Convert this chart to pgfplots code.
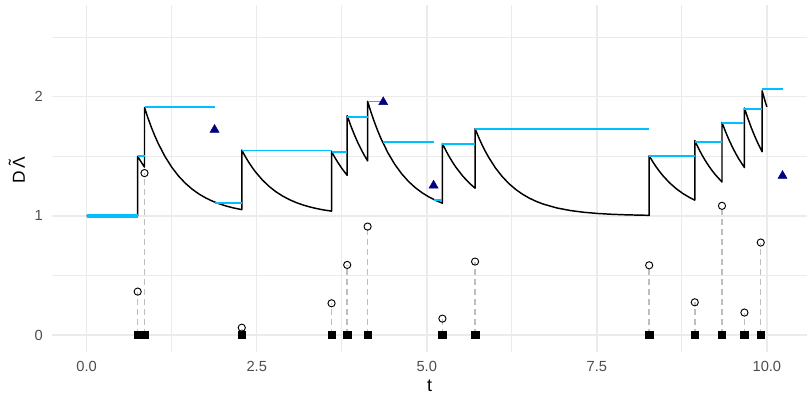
\documentclass[border=0pt]{standalone}
\usepackage{fontspec}
\setmainfont{Liberation Sans}
\usepackage{pgfplots}
\pgfplotsset{compat=1.18}
\definecolor{gridc}{HTML}{EBEBEB}
\definecolor{tickc}{HTML}{4D4D4D}
\definecolor{skyc}{HTML}{00BFFF}
\definecolor{navyc}{HTML}{000080}
\definecolor{dashc}{HTML}{BEBEBE}
\newcommand{\tLam}{\ooalign{Λ\cr\hidewidth\raisebox{0.22em}{\char"02DC}\hidewidth\cr}}
\begin{document}
\begin{tikzpicture}
\begin{axis}[
  at={(0,0)}, anchor=south west,
  scale only axis, width=566.25pt, height=260.25pt,
  xmin=-0.51, xmax=10.59, ymin=-0.143, ymax=2.77,
  axis line style={draw=none},
  major tick length=0pt, minor tick length=0pt,
  xtick={0,2.5,5,7.5,10}, xticklabels={0.0,2.5,5.0,7.5,10.0},
  minor xtick={1.25,3.75,6.25,8.75},
  ytick={0,1,2}, yticklabels={0,1,2},
  minor ytick={0.5,1.5,2.5},
  grid=both,
  major grid style={draw=gridc, line width=1.1pt},
  minor grid style={draw=gridc, line width=0.55pt},
  tick label style={font=\fontsize{11}{11}\selectfont, text=tickc},
  xticklabel style={anchor=north, inner sep=0pt, yshift=-6.5pt},
  yticklabel style={anchor=east, inner sep=0pt, xshift=-6.75pt},
  every axis x label/.style={at={(axis description cs:0.5,-0.0965)}, anchor=center, inner sep=0pt, font=\fontsize{13.5}{13.5}\selectfont},
  every axis y label/.style={at={(axis description cs:-0.0437,0.5245)}, rotate=90, anchor=center, inner sep=0pt, font=\fontsize{13}{13}\selectfont},
  xlabel={t}, ylabel={D\kern1.5pt\tLam},
  unbounded coords=jump,
  clip=false,
]
% intensity
\addplot[black, line width=1.1pt, line join=round] coordinates {
 (0,1) (0.75,1) (0.75,1.5) (0.80,1.45242) (0.85,1.40937)
 (0.85,1.90937) (0.90,1.82283) (0.95,1.74453) (1.00,1.67368) (1.05,1.60957) (1.15,1.49907) (1.25,1.40860) (1.35,1.33454) (1.45,1.27390) (1.55,1.22425) (1.65,1.18360) (1.75,1.15032) (1.85,1.12307) (1.95,1.10076) (2.05,1.08250) (2.15,1.06754) (2.28,1.05208)
 (2.28,1.55208) (2.33,1.49954) (2.38,1.45200) (2.43,1.40899) (2.48,1.37007) (2.58,1.30299) (2.68,1.24806) (2.78,1.20310) (2.88,1.16628) (2.98,1.13614) (3.08,1.11146) (3.18,1.09126) (3.28,1.07472) (3.38,1.06117) (3.48,1.05008) (3.60,1.03940)
 (3.60,1.53940) (3.65,1.48807) (3.70,1.44162) (3.75,1.39960) (3.80,1.36157) (3.83,1.34051)
 (3.83,1.84051) (3.88,1.76053) (3.93,1.68815) (3.98,1.62266) (4.03,1.56341) (4.08,1.50980) (4.13,1.46128)
 (4.13,1.96128) (4.18,1.86980) (4.23,1.78703) (4.28,1.71213) (4.33,1.64437) (4.43,1.52756) (4.53,1.43193) (4.63,1.35364) (4.73,1.28953) (4.83,1.23705) (4.93,1.19408) (5.03,1.15890) (5.13,1.13010) (5.23,1.10651)
 (5.23,1.60651) (5.28,1.54879) (5.33,1.49657) (5.38,1.44931) (5.43,1.40655) (5.53,1.33286) (5.63,1.27252) (5.71,1.23223)
 (5.71,1.73223) (5.76,1.66255) (5.81,1.59950) (5.86,1.54245) (5.91,1.49083) (6.01,1.40186) (6.11,1.32901) (6.21,1.26937) (6.31,1.22054) (6.41,1.18057) (6.51,1.14783) (6.61,1.12104) (6.71,1.09910) (6.91,1.06643) (7.11,1.04453) (7.31,1.02985) (7.51,1.02001) (7.71,1.01341) (7.91,1.00899) (8.11,1.00603) (8.27,1.00438)
 (8.27,1.50438) (8.32,1.45638) (8.37,1.41295) (8.42,1.37365) (8.47,1.33810) (8.57,1.27681) (8.67,1.22663) (8.77,1.18555) (8.87,1.15192) (8.94,1.13207)
 (8.94,1.63207) (8.99,1.57192) (9.04,1.51750) (9.09,1.46825) (9.14,1.42369) (9.19,1.38337) (9.24,1.34689) (9.34,1.28401)
 (9.34,1.78401) (9.39,1.70940) (9.44,1.64189) (9.49,1.58081) (9.54,1.52554) (9.59,1.47553) (9.67,1.40522)
 (9.67,1.90522) (9.72,1.81908) (9.77,1.74113) (9.82,1.67060) (9.87,1.60679) (9.93,1.53817)
 (9.93,2.05) (9.98,1.95) (10.0,1.915)
};
% bound (step) segments
\addplot[skyc, line width=2.8pt, forget plot] coordinates {(0,1) (0.75,1)};
\addplot[skyc, line width=1.4pt] coordinates {
 (0.75,1.50) (0.85,1.50) (0.85,nan)
 (0.85,1.912) (1.88,1.912) (1.88,nan)
 (1.88,1.11) (2.28,1.11) (2.28,nan)
 (2.28,1.549) (3.60,1.549) (3.60,nan)
 (3.60,1.537) (3.83,1.537) (3.83,nan)
 (3.83,1.829) (4.13,1.829) (4.13,nan)
 (4.13,1.96) (4.36,1.96) (4.36,nan)
 (4.36,1.619) (5.10,1.619) (5.10,nan)
 (5.10,1.134) (5.23,1.134) (5.23,nan)
 (5.23,1.605) (5.71,1.605) (5.71,nan)
 (5.71,1.731) (8.27,1.731) (8.27,nan)
 (8.27,1.50) (8.94,1.50) (8.94,nan)
 (8.94,1.62) (9.34,1.62) (9.34,nan)
 (9.34,1.78) (9.67,1.78) (9.67,nan)
 (9.67,1.90) (9.93,1.90) (9.93,nan)
 (9.93,2.066) (10.23,2.066)
};
% dashed stems
\addplot[ycomb, dashc, line width=1.1pt, dash pattern=on 4.5pt off 3pt] coordinates {
 (0.75,0.364) (0.85,1.359) (2.28,0.061) (3.60,0.266) (3.83,0.588) (4.13,0.910) (5.23,0.137) (5.71,0.616) (8.27,0.585) (8.94,0.274) (9.34,1.084) (9.67,0.188) (9.91,0.776)
};
% uniform draws (circles)
\addplot[only marks, mark=o, mark size=2.7pt, mark options={black, line width=0.7pt}] coordinates {
 (0.75,0.364) (0.85,1.359) (2.28,0.061) (3.60,0.266) (3.83,0.588) (4.13,0.910) (5.23,0.137) (5.71,0.616) (8.27,0.585) (8.94,0.274) (9.34,1.084) (9.67,0.188) (9.91,0.776)
};
% accepted events
\addplot[only marks, mark=square*, mark size=2.8pt, mark options={black}] coordinates {
 (0.75,0) (0.85,0) (2.28,0) (3.60,0) (3.83,0) (4.13,0) (5.23,0) (5.71,0) (8.27,0) (8.94,0) (9.34,0) (9.67,0) (9.91,0)
};
% rejected candidates
\addplot[only marks, mark=triangle*, mark size=3.9pt, mark options={navyc}] coordinates {
 (1.88,1.723) (4.36,1.955) (5.10,1.255) (10.23,1.336)
};
\end{axis}
\pgfresetboundingbox
\path (-39pt,-33pt) rectangle (566.25pt,264pt);
\end{tikzpicture}
\end{document}
